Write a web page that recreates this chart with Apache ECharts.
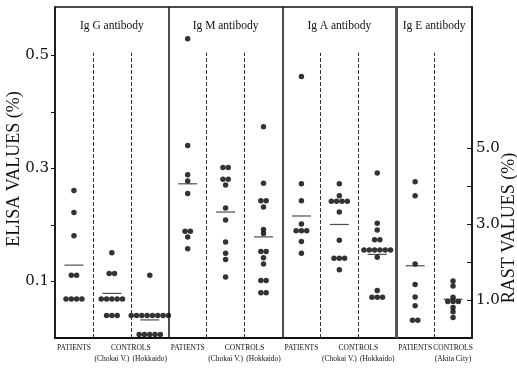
<!DOCTYPE html>
<html>
<head>
<meta charset="utf-8">
<script src="https://cdn.jsdelivr.net/npm/echarts@6/dist/echarts.min.js"></script>
<style>
  html, body { margin: 0; padding: 0; background: #fff; }
  #chart { width: 517px; height: 368px; }
</style>
</head>
<body>
<div id="chart"></div>
<script>
// ELISA values (%), one array per column, left to right
const igGPatients = [0.261, 0.222, 0.181, 0.111, 0.111, 0.069, 0.069, 0.069, 0.069];
const igGChokai = [0.151, 0.114, 0.114, 0.069, 0.069, 0.069, 0.069, 0.069, 0.040, 0.040, 0.040];
const igGHokkaido = [0.111, 0.040, 0.040, 0.040, 0.040, 0.040, 0.040, 0.040, 0.040,
  0.006, 0.006, 0.006, 0.006, 0.006];
const igMPatients = [0.530, 0.341, 0.289, 0.278, 0.256, 0.189, 0.189, 0.179, 0.158];
const igMChokai = [0.302, 0.302, 0.281, 0.281, 0.271, 0.230, 0.209, 0.170, 0.150, 0.139, 0.108];
const igMHokkaido = [0.374, 0.274, 0.243, 0.243, 0.232, 0.192, 0.185, 0.153, 0.153, 0.142,
  0.131, 0.102, 0.102, 0.080, 0.080];
const igAPatients = [0.463, 0.273, 0.243, 0.202, 0.190, 0.190, 0.190, 0.171, 0.150];
const igAChokai = [0.273, 0.252, 0.242, 0.242, 0.242, 0.242, 0.223, 0.173, 0.141, 0.141, 0.141, 0.121];
const igAHokkaido = [0.292, 0.203, 0.191, 0.174, 0.174, 0.156, 0.156, 0.156, 0.156, 0.156, 0.156,
  0.143, 0.084, 0.072, 0.072, 0.072];
// RAST values (%)
const igEPatients = [4.11, 3.74, 1.95, 1.41, 1.08, 0.85, 0.47, 0.47];
const igEAkita = [1.50, 1.37, 1.07, 0.96, 0.96, 0.96, 0.80, 0.69, 0.54];

const elisaColumns = [igGPatients, igGChokai, igGHokkaido, igMPatients, igMChokai, igMHokkaido,
  igAPatients, igAChokai, igAHokkaido];
const rastColumns = [igEPatients, igEAkita];
const elisaMeans = [0.129, 0.079, 0.032, 0.273, 0.223, 0.179, 0.216, 0.201, 0.148];
const rastMeans = [1.90, 1.02];

const elisaTicks = [0.1, 0.2, 0.3, 0.4, 0.5];
const elisaLabels = [0.1, 0.3, 0.5];
const rastTicks = [1, 2, 3, 4, 5];
const rastLabels = [1, 3, 5];

const panelTitles = ['Ig G antibody', 'Ig M antibody', 'Ig A antibody', 'Ig E antibody'];
const panelSizes = [3, 3, 3, 2];
const controlSites = [['(Chokai V.)', '(Hokkaido)'], ['(Chokai V.)', '(Hokkaido)'],
  ['(Chokai V.)', '(Hokkaido)'], ['(Akita City)']];

const INK = '#111';
const SPREAD = 0.14;   // horizontal step between tied dots, in column units
const DASH_TOP = 0.505;
const SMALL = '7.5px "Liberation Serif"';

// tied values sit side by side around the column centre
function spread(values, col) {
  const counts = {}, seen = {};
  values.forEach(v => { counts[v] = (counts[v] || 0) + 1; });
  return values.map(v => {
    const k = seen[v] = (seen[v] || 0) + 1;
    return [col + 0.5 + (k - 1 - (counts[v] - 1) / 2) * SPREAD, v];
  });
}

const elisaDots = elisaColumns.flatMap((vals, i) => spread(vals, i));
const rastDots = rastColumns.flatMap((vals, i) => spread(vals, 9 + i));
const elisaMeanPts = elisaMeans.map((m, i) => [i + 0.5, m]);
const rastMeanPts = rastMeans.map((m, i) => [9.5 + i, m]);

// panel borders and dashed column separators
const solidAt = [];
const dashedAt = [];
let start = 0;
panelSizes.forEach((n, p) => {
  for (let k = 1; k < n; k++) dashedAt.push(start + k);
  start += n;
  if (p < panelSizes.length - 1) solidAt.push(start);
});

const chart = echarts.init(document.getElementById('chart'));
const fmt = v => v.toFixed(1);

chart.setOption({
  animation: false,
  backgroundColor: '#fff',
  grid: { left: 55, right: 45, top: 7, bottom: 30, show: true, borderColor: INK, borderWidth: 1.5 },
  xAxis: {
    type: 'value', min: 0, max: 11,
    axisLine: { show: true, lineStyle: { color: INK, width: 2 } },
    axisTick: { show: false }, axisLabel: { show: false }, splitLine: { show: false }
  },
  yAxis: [
    {
      type: 'value', min: 0, max: 0.586, position: 'left',
      axisLine: { show: true, lineStyle: { color: INK, width: 1.5 } },
      axisTick: { show: true, length: 4, customValues: elisaTicks, lineStyle: { color: INK } },
      axisLabel: {
        customValues: elisaLabels, formatter: fmt, margin: 6,
        fontFamily: 'DejaVu Serif', fontSize: 15, color: '#111'
      },
      splitLine: { show: false }
    },
    {
      type: 'value', min: 0, max: 8.71, position: 'right',
      axisLine: { show: true, lineStyle: { color: INK, width: 1.5 } },
      axisTick: { show: true, inside: true, length: 5, customValues: rastTicks, lineStyle: { color: INK } },
      axisLabel: {
        customValues: rastLabels, formatter: fmt, margin: 4,
        fontFamily: 'DejaVu Serif', fontSize: 15, color: '#111'
      },
      splitLine: { show: false }
    }
  ],
  series: [
    {
      type: 'scatter', yAxisIndex: 0, data: elisaDots, symbolSize: 5.5,
      itemStyle: { color: '#000' }, silent: true,
      markLine: {
        silent: true, symbol: 'none', label: { show: false },
        data: [
          ...solidAt.map(x => ({
            xAxis: x,
            lineStyle: { type: 'solid', color: x === 9 ? '#555' : INK, width: x === 9 ? 3 : 1.5 }
          })),
          ...dashedAt.map(x => [
            { coord: [x, 0], lineStyle: { type: [4, 2], color: '#333', width: 1 } },
            { coord: [x, DASH_TOP] }
          ])
        ]
      }
    },
    {
      type: 'scatter', yAxisIndex: 1, data: rastDots, symbolSize: 5.5,
      itemStyle: { color: '#000' }, silent: true
    },
    {
      type: 'scatter', yAxisIndex: 0, data: elisaMeanPts, symbol: 'rect', symbolSize: [19, 1.2],
      itemStyle: { color: '#222' }, silent: true
    },
    {
      type: 'scatter', yAxisIndex: 1, data: rastMeanPts, symbol: 'rect', symbolSize: [19, 1.2],
      itemStyle: { color: '#222' }, silent: true
    }
  ]
});

// texts placed from the chart's own coordinate system
const px = x => chart.convertToPixel({ xAxisIndex: 0, yAxisIndex: 0 }, [x, 0])[0];
const graphics = [];
const txt = (x, y, text, font, extra) => graphics.push(Object.assign({
  type: 'text', x, y, silent: true,
  style: { text, font, fill: '#111', align: 'center', verticalAlign: 'middle' }
}, extra || {}));

start = 0;
panelSizes.forEach((n, p) => {
  txt(px(start + n / 2), 26, panelTitles[p], '11.5px "Liberation Serif"');
  txt(px(start + 0.5), 348, 'PATIENTS', SMALL);
  const sites = controlSites[p];
  txt(px(sites.length === 2 ? start + 2 : start + 1.5), 348, 'CONTROLS', SMALL);
  sites.forEach((s, k) => txt(px(start + 1.5 + k), 359, s, SMALL));
  start += n;
});

txt(14, 169, 'ELISA VALUES (%)', '18px "Liberation Serif"', { rotation: Math.PI / 2 });
txt(509, 228, 'RAST VALUES (%)', '18px "Liberation Serif"', { rotation: Math.PI / 2 });

chart.setOption({ graphic: graphics });
</script>
</body>
</html>
